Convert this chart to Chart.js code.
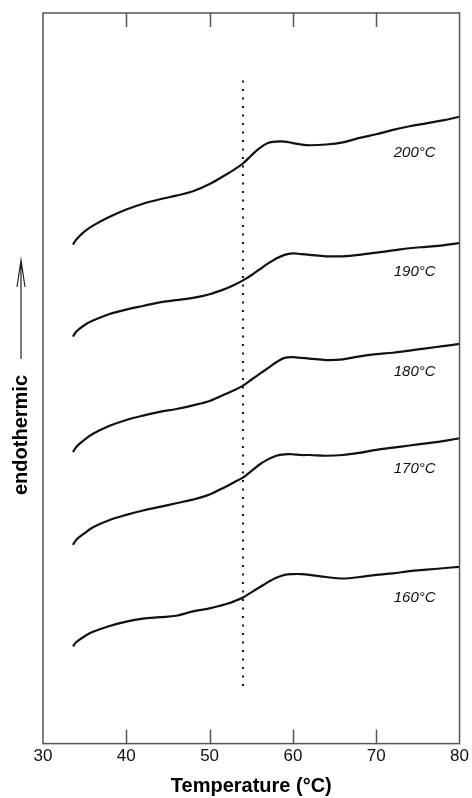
<!DOCTYPE html>
<html>
<head>
<meta charset="utf-8">
<script src="https://cdn.jsdelivr.net/npm/chart.js@4.4.0/dist/chart.umd.min.js"></script>
<style>
  html, body { margin: 0; padding: 0; background: #fff; }
  #wrap { width: 472px; height: 798px; }
</style>
</head>
<body>
<div id="wrap"><canvas id="dsc"></canvas></div>
<script>
// temperature grid (°C) shared by all traces
const temps = [33.6, 34, 35, 36, 38, 40, 42, 44, 46, 48, 50, 52, 53, 54, 55, 56, 57, 58, 59, 60, 61, 62, 64, 66, 68, 70, 72, 74, 76, 78, 80];

// heat flow, arbitrary units (endothermic up), traces offset
const flow200 = [68.3, 69.0, 70.1, 70.9, 72.1, 73.1, 73.9, 74.5, 75.0, 75.6, 76.6, 77.9, 78.6, 79.4, 80.5, 81.5, 82.2, 82.4, 82.4, 82.2, 82.0, 81.9, 82.0, 82.3, 82.9, 83.4, 84.0, 84.5, 84.9, 85.3, 85.8];
const flow190 = [55.7, 56.4, 57.3, 57.9, 58.8, 59.4, 59.9, 60.4, 60.7, 61.0, 61.5, 62.3, 62.8, 63.4, 64.1, 64.9, 65.7, 66.4, 66.9, 67.1, 67.0, 66.9, 66.7, 66.7, 66.9, 67.2, 67.5, 67.8, 68.0, 68.2, 68.5];
const flow180 = [39.9, 40.6, 41.6, 42.4, 43.5, 44.3, 44.9, 45.4, 45.8, 46.3, 46.9, 47.9, 48.4, 49.0, 49.8, 50.6, 51.4, 52.2, 52.8, 52.9, 52.8, 52.7, 52.5, 52.6, 53.0, 53.3, 53.5, 53.8, 54.1, 54.4, 54.7];
const flow170 = [27.2, 27.9, 28.8, 29.6, 30.6, 31.3, 31.9, 32.4, 32.9, 33.4, 34.1, 35.2, 35.8, 36.4, 37.3, 38.2, 38.9, 39.4, 39.6, 39.6, 39.5, 39.5, 39.4, 39.5, 39.8, 40.2, 40.5, 40.8, 41.1, 41.4, 41.8];
const flow160 = [13.3, 13.9, 14.7, 15.3, 16.1, 16.7, 17.1, 17.3, 17.5, 18.1, 18.5, 19.1, 19.5, 20.0, 20.7, 21.4, 22.1, 22.7, 23.1, 23.2, 23.2, 23.1, 22.8, 22.6, 22.8, 23.1, 23.3, 23.6, 23.8, 24.0, 24.2];

const curveNames = ['200°C', '190°C', '180°C', '170°C', '160°C'];
const curveLabelY = [80.8, 64.6, 50.9, 37.6, 19.9];
const curveLabelT = 72.1;

// vertical dotted reference line
const refTemp = 54;
const refRange = [7.9, 91.2];

const xTicks = [30, 40, 50, 60, 70, 80];

const FONT = '"Liberation Sans", Arial, sans-serif';

function toPoints(ys) {
  return temps.map((t, i) => ({ x: t, y: ys[i] }));
}

const traces = [flow200, flow190, flow180, flow170, flow160].map((ys, i) => ({
  label: curveNames[i],
  data: toPoints(ys),
  borderColor: '#111',
  borderWidth: 2.2,
  pointRadius: 0,
  tension: 0.35,
  fill: false
}));

traces.push({
  label: 'ref',
  data: refRange.map(v => ({ x: refTemp, y: v })),
  borderColor: '#111',
  borderWidth: 2,
  borderDash: [2, 6.5],
  pointRadius: 0,
  fill: false
});

// frame, inward ticks, trace labels and the endothermic arrow
const decorations = {
  id: 'decorations',
  afterDraw(chart) {
    const { ctx, chartArea: a, scales } = chart;
    const x = scales.x, y = scales.y;
    ctx.save();
    ctx.strokeStyle = '#555';
    ctx.lineWidth = 1.5;
    ctx.strokeRect(a.left, a.top, a.right - a.left, a.bottom - a.top);
    ctx.beginPath();
    xTicks.slice(1, -1).forEach(t => {
      const px = Math.round(x.getPixelForValue(t)) + 0.5;
      ctx.moveTo(px, a.bottom); ctx.lineTo(px, a.bottom - 14);
      ctx.moveTo(px, a.top); ctx.lineTo(px, a.top + 14);
    });
    ctx.stroke();

    ctx.fillStyle = '#111';
    ctx.font = 'italic 15px ' + FONT;
    ctx.textBaseline = 'middle';
    ctx.textAlign = 'left';
    curveNames.forEach((name, i) => {
      ctx.fillText(name, x.getPixelForValue(curveLabelT), y.getPixelForValue(curveLabelY[i]));
    });

    // y label with arrow
    ctx.save();
    ctx.translate(21, 495);
    ctx.rotate(-Math.PI / 2);
    ctx.font = 'bold 20px ' + FONT;
    ctx.textAlign = 'left';
    ctx.fillStyle = '#000';
    ctx.fillText('endothermic', 0, 0);
    ctx.restore();
    ctx.strokeStyle = '#222';
    ctx.lineWidth = 1.2;
    ctx.beginPath();
    ctx.moveTo(21, 359); ctx.lineTo(21, 260);
    ctx.moveTo(17, 287); ctx.lineTo(21, 260); ctx.lineTo(25, 287);
    ctx.stroke();
    ctx.restore();
  }
};

new Chart(document.getElementById('dsc'), {
  type: 'line',
  data: { datasets: traces },
  options: {
    responsive: true,
    maintainAspectRatio: false,
    animation: false,
    layout: { padding: { left: 43, right: 8, top: 13, bottom: 0 } },
    plugins: { legend: { display: false }, tooltip: { enabled: false } },
    scales: {
      x: {
        type: 'linear',
        min: 30,
        max: 80,
        afterBuildTicks: s => { s.ticks = xTicks.map(v => ({ value: v })); },
        grid: { display: false, drawTicks: false },
        border: { display: false },
        ticks: { color: '#111', font: { family: FONT, size: 17 }, padding: 3 },
        title: {
          display: true,
          text: 'Temperature (°C)',
          color: '#000',
          font: { family: FONT, size: 20, weight: 'bold' },
          padding: { top: 4, bottom: 0 }
        }
      },
      y: { display: false, min: 0, max: 100 }
    }
  },
  plugins: [decorations]
});
</script>
</body>
</html>
